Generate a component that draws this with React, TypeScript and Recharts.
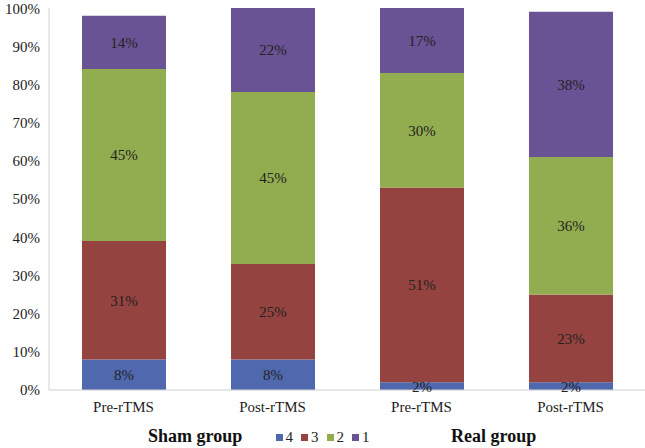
import { BarChart, Bar, XAxis, YAxis, LabelList, Legend } from "recharts";

document.body.style.margin = "0";

const categories = ["Pre-rTMS", "Post-rTMS", "Pre-rTMS", "Post-rTMS"];
const score4 = [8, 8, 2, 2];
const score3 = [31, 25, 51, 23];
const score2 = [45, 45, 30, 36];
const score1 = [14, 22, 17, 38];
const yTicks = [0, 10, 20, 30, 40, 50, 60, 70, 80, 90, 100];

const series = [
  { key: "s4", name: "4", color: "#5068ae" },
  { key: "s3", name: "3", color: "#954340" },
  { key: "s2", name: "2", color: "#92ad50" },
  { key: "s1", name: "1", color: "#6a5394" },
];

const data = categories.map((name, i) => ({
  name,
  s4: score4[i],
  s3: score3[i],
  s2: score2[i],
  s1: score1[i],
}));

const font = "'Liberation Serif', 'Times New Roman', serif";

function LegendContent() {
  return (
    <div style={{ display: "flex", justifyContent: "center", gap: 8, fontFamily: font, fontSize: 15, color: "#222" }}>
      {series.map((s) => (
        <span key={s.key} style={{ display: "inline-flex", alignItems: "center", gap: 3 }}>
          <span style={{ width: 7, height: 7, background: s.color, display: "inline-block" }} />
          {s.name}
        </span>
      ))}
    </div>
  );
}

export default function App() {
  return (
    <div style={{ position: "relative", width: 645, height: 448, background: "#fff", fontFamily: font }}>
      <BarChart width={645} height={448} data={data} margin={{ top: 8, right: 0, bottom: 11, left: 0 }} barSize={84}>
        <XAxis
          dataKey="name"
          height={30}
          stroke="#d0d0d0"
          tickLine={false}
          tickMargin={5}
          tick={{ fill: "#222", fontSize: 15, fontFamily: font }}
        />
        <YAxis
          width={49}
          domain={[0, 100]}
          ticks={yTicks}
          tickFormatter={(v) => `${v}%`}
          stroke="#d0d0d0"
          tickLine={false}
          tickMargin={3}
          tick={{ fill: "#222", fontSize: 15, fontFamily: font }}
        />
        <Legend
          verticalAlign="bottom"
          content={<LegendContent />}
          wrapperStyle={{ bottom: 2, left: 0, width: 645 }}
        />
        {series.map((s) => (
          <Bar key={s.key} dataKey={s.key} name={s.name} stackId="a" fill={s.color} isAnimationActive={false}>
            <LabelList
              dataKey={s.key}
              position="center"
              formatter={(v) => `${v}%`}
              style={{ fill: "#222", fontSize: 15, fontFamily: font }}
            />
          </Bar>
        ))}
      </BarChart>
      <div style={{ position: "absolute", left: 148, top: 426, fontSize: 18, fontWeight: "bold", color: "#111" }}>
        Sham group
      </div>
      <div style={{ position: "absolute", left: 451, top: 426, fontSize: 18, fontWeight: "bold", color: "#111" }}>
        Real group
      </div>
    </div>
  );
}
